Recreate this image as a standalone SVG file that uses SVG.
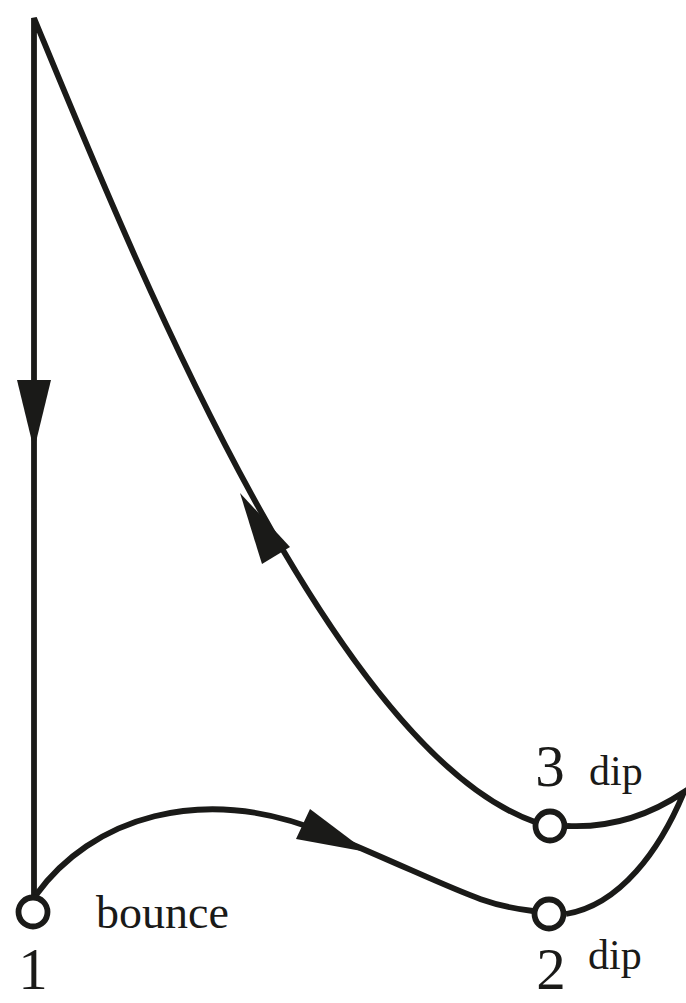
<svg xmlns="http://www.w3.org/2000/svg" width="686" height="1003" viewBox="0 0 686 1003">
<style>
.ln{fill:none;stroke:#1a1a18;stroke-width:5.8;stroke-linejoin:miter}
.ah{fill:#1a1a18;stroke:none}
.nd{fill:#fff;stroke:#1a1a18;stroke-width:5.8}
.t{font-family:"Liberation Serif","Times New Roman",serif;fill:#1a1a18}
.num{font-size:59px;text-anchor:middle}
.lb{font-size:42px}
</style>
<rect width="686" height="1003" fill="#fff"/>
<g id="connectors">
<path class="ln" d="M 34 897 L 34 18 C 130 250, 330 750, 535 822"/>
<path class="ln" d="M 36 895 C 90 820, 200 780, 330 835 S 480 905, 533 911"/>
<path class="ln" d="M 566 914 C 620 905, 660 850, 684 792 C 650 815, 610 828, 567 826"/>
<polygon class="ah" points="17,380 51,380 34,450"/>
<polygon class="ah" points="240,493 290,547 262,564"/>
<polygon class="ah" points="367,852 296,839 310,809"/>
</g>
<g id="node1">
<circle class="nd" cx="33" cy="912" r="14.5"/>
<text class="t num" x="33" y="989">1</text>
<text class="t lb" x="96" y="928" style="font-size:46px">bounce</text>
</g>
<g id="node2">
<circle class="nd" cx="549" cy="914" r="14.5"/>
<text class="t num" x="551" y="989">2</text>
<text class="t lb" x="588" y="969">dip</text>
</g>
<g id="node3">
<circle class="nd" cx="550" cy="826" r="14.5"/>
<text class="t num" x="550" y="786">3</text>
<text class="t lb" x="589" y="785">dip</text>
</g>
</svg>
